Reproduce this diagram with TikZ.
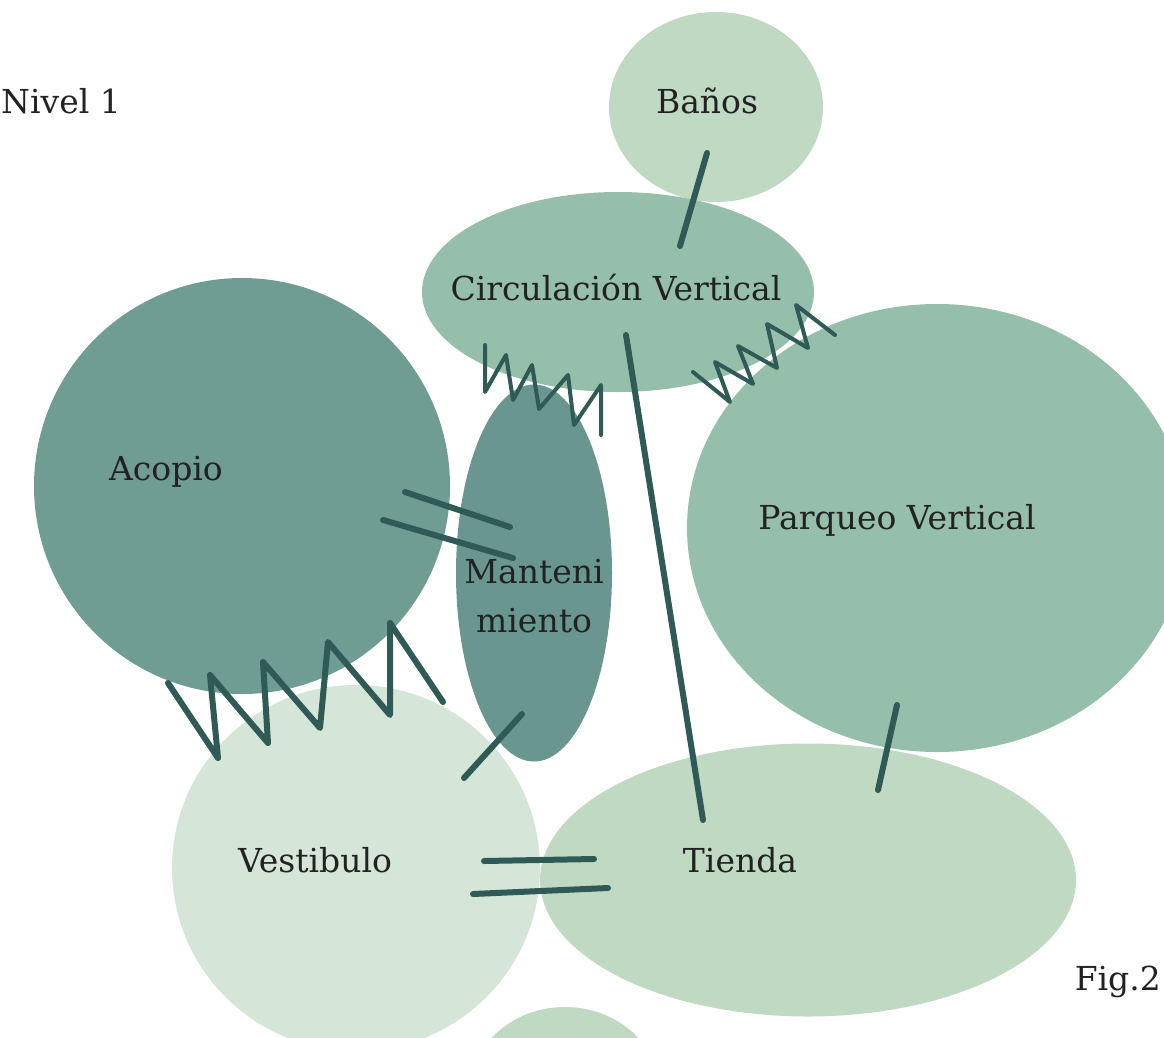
\documentclass[tikz,border=0pt]{standalone}
\usepackage{fontspec}
\setmainfont{DejaVu Serif}
\usetikzlibrary{shapes.geometric}

\definecolor{acopioC}{HTML}{6F9D94}
\definecolor{mantC}{HTML}{69978F}
\definecolor{circC}{HTML}{95BFAB}
\definecolor{claroC}{HTML}{C0D9C3}
\definecolor{vestC}{HTML}{D5E5D7}
\definecolor{trazo}{HTML}{2F5A55}
\definecolor{texto}{HTML}{222222}

\begin{document}
\begin{tikzpicture}[
    x=1pt, y=-1pt,
    % zonas del programa
    zona/.style={ellipse, draw=none, inner sep=0pt},
    rotulo/.style={font=\fontsize{33}{49}\selectfont, text=texto, align=center, anchor=base},
    enlace/.style={draw=trazo, line width=6pt, line cap=round, line join=round},
]

\useasboundingbox (0,0) rectangle (1164,1037);
\clip (0,0) rectangle (1164,1037);

% ============ ZONAS ============
\node[zona, fill=claroC, minimum width=214, minimum height=190] (banos) at (716,107) {};
\node[zona, fill=circC, minimum width=392, minimum height=200] (circ) at (618,292) {};
\node[zona, fill=acopioC, minimum width=416, minimum height=416] (acopio) at (242,486) {};
\node[zona, fill=mantC, minimum width=156, minimum height=377] (mant) at (534,573) {};
\node[zona, fill=circC, minimum width=500, minimum height=448] (parqueo) at (937,528) {};
\node[zona, fill=vestC, minimum width=368, minimum height=366] (vest) at (356,868) {};
\node[zona, fill=claroC, minimum width=536, minimum height=273] (tienda) at (808,880) {};
\node[zona, fill=claroC, minimum width=190, minimum height=170] (extra) at (565,1092) {};

% ============ ROTULOS ============
\node[rotulo, anchor=base west, inner sep=0pt] (nivel) at (1,113) {Nivel 1};
\node[rotulo] (banosT) at (707,113) {Baños};
\node[rotulo] (circT) at (616,300) {Circulación Vertical};
\node[rotulo] (acopioT) at (166,480) {Acopio};
\node[rotulo] (mantT) at (534,632) {Manteni\\miento};
\node[rotulo] (parqueoT) at (897,529) {Parqueo Vertical};
\node[rotulo] (vestT) at (315,872) {Vestibulo};
\node[rotulo] (tiendaT) at (740,872) {Tienda};
\node[rotulo, anchor=base east, inner sep=0pt] (fig) at (1161,990) {Fig.2};

% ============ EXTREMOS DE ENLACES ============
\coordinate (bc1) at (707,153);  \coordinate (bc2) at (680,246);
\coordinate (ct1) at (626,335);  \coordinate (ct2) at (703,820);
\coordinate (cm1) at (485,345);  \coordinate (cm2) at (601,435);
\coordinate (cp1) at (693,372);  \coordinate (cp2) at (835,335);
\coordinate (am1) at (405,492);  \coordinate (am2) at (510,527);
\coordinate (am3) at (383,520);  \coordinate (am4) at (513,558);
\coordinate (av1) at (168,683);  \coordinate (av2) at (443,702);
\coordinate (mv1) at (522,714);  \coordinate (mv2) at (464,778);
\coordinate (vt1) at (484,861);  \coordinate (vt2) at (594,859);
\coordinate (vt3) at (473,894);  \coordinate (vt4) at (608,888);
\coordinate (pt1) at (897,705);  \coordinate (pt2) at (878,790);

% ============ ENLACES ============
\draw[enlace] (bc1) -- (bc2);
\draw[enlace] (ct1) -- (ct2);
\draw[enlace, line width=4pt] (cm1) -- (485,392) -- (506,355) -- (513,400) -- (532,365)
    -- (539,409) -- (568,375) -- (574,425) -- (601,385) -- (cm2);
\draw[enlace, line width=4pt] (cp1) -- (730,402) -- (715,362) -- (753,384) -- (738,346)
    -- (777,368) -- (767,324) -- (808,348) -- (796,305) -- (cp2);
\draw[enlace] (am1) -- (am2);
\draw[enlace] (am3) -- (am4);
\draw[enlace] (av1) -- (218,758) -- (210,675) -- (268,743) -- (263,662) -- (320,728)
    -- (328,642) -- (390,715) -- (390,623) -- (av2);
\draw[enlace] (mv1) -- (mv2);
\draw[enlace] (vt1) -- (vt2);
\draw[enlace] (vt3) -- (vt4);
\draw[enlace] (pt1) -- (pt2);

\end{tikzpicture}
\end{document}
